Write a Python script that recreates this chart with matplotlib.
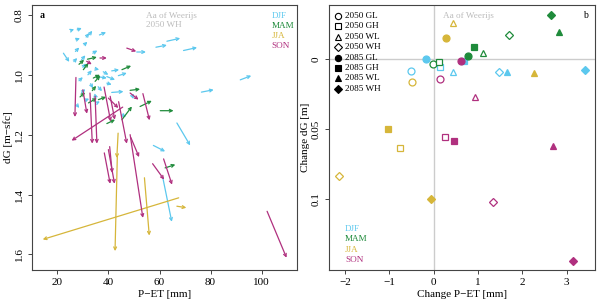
import matplotlib
matplotlib.use('Agg')  # no display

import matplotlib.pyplot as plt

plt.rcParams['font.family'] = ['Liberation Serif', 'DejaVu Serif']
plt.rcParams['axes.unicode_minus'] = True

seasons = ['DJF', 'MAM', 'JJA', 'SON']
season_colors = ['#5cc8ee', '#1f8b3b', '#d6b63a', '#b0307f']

# panel a: arrows per season, rows are [P-ET start, dG start, P-ET end, dG end]
djf_arrows = [
    [25.3, 0.852, 26.6, 0.848], [27.8, 0.850, 29.6, 0.844], [32.5, 0.866, 33.7, 0.853],
    [36.5, 0.867, 39.1, 0.858], [27.3, 0.883, 28.9, 0.878], [31.3, 0.874, 32.5, 0.861],
    [30.5, 0.900, 31.8, 0.890], [22.4, 0.928, 24.7, 0.957], [27.1, 0.922, 28.6, 0.909],
    [33.9, 0.928, 35.7, 0.919], [26.5, 0.956, 27.8, 0.944], [29.5, 0.950, 31.0, 0.935],
    [51.1, 0.924, 54.7, 0.924], [58.6, 0.908, 62.9, 0.901], [62.9, 0.888, 68.1, 0.878],
    [69.4, 0.919, 74.7, 0.909], [91.6, 1.017, 95.9, 1.003], [76.4, 1.058, 81.2, 1.050],
    [41.3, 0.987, 44.2, 0.983], [43.9, 1.003, 47.2, 0.994], [34.8, 0.980, 36.4, 0.983],
    [39.4, 1.006, 42.6, 1.017], [41.3, 1.059, 45.9, 1.056], [66.8, 1.161, 72.0, 1.236],
    [57.6, 1.236, 62.2, 1.256], [61.3, 1.344, 64.8, 1.491], [35.5, 1.006, 39.4, 1.011],
    [39.4, 1.028, 41.3, 1.033], [27.6, 1.100, 28.6, 1.111], [35.5, 1.094, 36.7, 1.089],
    [45.3, 1.133, 46.9, 1.141], [49.2, 1.067, 49.8, 1.081], [30.0, 0.975, 31.2, 0.962],
    [32.0, 1.000, 33.5, 0.985], [28.5, 1.020, 30.0, 1.008], [33.0, 1.030, 34.0, 1.045],
    [36.0, 1.040, 37.5, 1.055], [29.5, 1.060, 31.0, 1.048], [34.5, 1.070, 36.0, 1.075],
    [31.0, 1.085, 32.5, 1.080], [38.0, 0.990, 40.0, 1.000],
]
mam_arrows = [
    [31.8, 0.948, 35.5, 0.941], [28.5, 0.965, 30.5, 0.950], [30.2, 0.983, 32.2, 0.961],
    [45.3, 0.983, 48.9, 0.970], [48.5, 1.052, 52.4, 1.048], [52.4, 1.106, 57.0, 1.087],
    [60.3, 1.120, 65.5, 1.120], [45.3, 1.150, 49.2, 1.106], [39.4, 1.163, 42.6, 1.150],
    [62.2, 1.311, 66.2, 1.300], [34.8, 1.022, 36.8, 1.003], [28.9, 1.074, 30.9, 1.059],
    [32.2, 1.094, 35.5, 1.078], [36.1, 1.083, 39.1, 1.074], [33.7, 1.053, 35.2, 1.037],
    [34.1, 1.011, 36.7, 1.000],
]
jja_arrows = [
    [67.5, 1.411, 14.3, 1.550], [43.8, 1.195, 43.3, 1.278], [43.5, 1.270, 42.6, 1.589],
    [54.1, 1.344, 56.0, 1.537], [66.8, 1.439, 70.5, 1.444],
]
son_arrows = [
    [47.2, 0.911, 50.9, 0.922], [36.7, 0.944, 39.4, 0.944], [31.5, 0.955, 33.5, 0.965],
    [27.3, 1.009, 26.9, 1.141], [30.0, 1.050, 31.6, 1.130], [32.8, 1.061, 33.7, 1.230],
    [34.8, 1.072, 35.5, 1.230], [38.3, 1.041, 40.9, 1.156], [40.7, 1.072, 42.5, 1.150],
    [44.0, 1.090, 47.2, 1.230], [48.5, 1.061, 51.8, 1.083], [53.5, 1.063, 56.1, 1.152],
    [45.6, 1.108, 25.6, 1.220], [48.8, 1.210, 52.0, 1.275], [48.5, 1.200, 53.5, 1.478],
    [38.4, 1.261, 40.7, 1.364], [40.0, 1.250, 42.4, 1.364], [40.5, 1.240, 41.5, 1.328],
    [57.3, 1.297, 61.8, 1.350], [61.6, 1.281, 64.9, 1.367], [102.1, 1.456, 109.7, 1.611],
    [40.0, 1.078, 43.9, 1.111],
]
arrows_by_season = [djf_arrows, mam_arrows, jja_arrows, son_arrows]

# panel b: change per scenario
scenarios = ['2050 GL', '2050 GH', '2050 WL', '2050 WH',
             '2085 GL', '2085 GH', '2085 WL', '2085 WH']
djf_dpet = [-0.51, 0.14, 0.44, 1.47, -0.18, 0.69, 1.65, 3.42]
djf_ddg = [0.0081, 0.0057, 0.0093, 0.0093, 0.0, 0.0012, 0.0093, 0.0076]
mam_dpet = [-0.02, 0.13, 1.11, 1.71, 0.77, 0.92, 2.83, 2.64]
mam_ddg = [0.0036, 0.0021, -0.0043, -0.0176, -0.0024, -0.0088, -0.0197, -0.0316]
jja_dpet = [-0.48, -0.75, 0.44, -2.13, 0.29, -1.02, 2.26, -0.07]
jja_ddg = [0.016, 0.0631, -0.0261, 0.0834, -0.015, 0.05, 0.01, 0.0998]
son_dpet = [0.14, 0.26, 0.93, 1.35, 0.61, 0.47, 2.69, 3.15]
son_ddg = [0.0143, 0.0553, 0.0271, 0.1017, 0.0012, 0.0584, 0.0619, 0.1439]
dpet_by_season = [djf_dpet, mam_dpet, jja_dpet, son_dpet]
ddg_by_season = [djf_ddg, mam_ddg, jja_ddg, son_ddg]

markers = ['o', 's', '^', 'D', 'o', 's', '^', 'D']
marker_sizes = [5.0, 4.2, 5.0, 4.2, 5.0, 4.2, 5.0, 4.2]
filled = [False, False, False, False, True, True, True, True]

fs = 8          # ticks and axis labels
fs_in = 6.6     # texts inside the panels
axcol = '#444444'
gray_txt = '#bbbbbb'

fig = plt.figure(figsize=(6.0, 3.05), dpi=100)
ax1 = fig.add_axes([0.0533, 0.1148, 0.4417, 0.8688])
ax2 = fig.add_axes([0.5483, 0.1148, 0.4434, 0.8688])


def style_axes(ax):
    for sp in ax.spines.values():
        sp.set_color(axcol)
        sp.set_linewidth(0.8)
    ax.tick_params(colors=axcol, labelcolor='black', labelsize=fs, length=3, width=0.7, pad=3)
    ax.tick_params(axis='y', labelrotation=90)
    for lab in ax.get_yticklabels():
        lab.set_va('center')


# ---- panel a
for arr, col in zip(arrows_by_season, season_colors):
    for x0, y0, x1, y1 in arr:
        ax1.annotate('', xy=(x1, y1), xytext=(x0, y0),
                     arrowprops=dict(arrowstyle='->,head_length=0.2,head_width=0.1',
                                     color=col, lw=0.9, shrinkA=0, shrinkB=0))
ax1.set_xlim(10.1, 113.8)
ax1.set_ylim(1.652, 0.767)
ax1.set_xticks([20, 40, 60, 80, 100])
ax1.set_yticks([0.8, 1.0, 1.2, 1.4, 1.6])
ax1.set_yticklabels(['0.8', '1.0', '1.2', '1.4', '1.6'])
ax1.set_xlabel('P\u2212ET [mm]', fontsize=fs, labelpad=2)
ax1.set_ylabel('dG [m\u2212sfc]', fontsize=fs, labelpad=1)
style_axes(ax1)
ax1.text(0.03, 0.96, 'a', transform=ax1.transAxes, fontsize=fs_in + 0.5,
         fontweight='bold', va='center')
ax1.text(0.429, 0.96, 'Aa of Weerijs', transform=ax1.transAxes, fontsize=fs_in,
         color=gray_txt, va='center')
ax1.text(0.429, 0.923, '2050 WH', transform=ax1.transAxes, fontsize=fs_in,
         color=gray_txt, va='center')
for i, (s, col) in enumerate(zip(seasons, season_colors)):
    ax1.text(0.905, 0.96 - i * 0.038, s, transform=ax1.transAxes, fontsize=fs_in,
             color=col, va='center')

# ---- panel b
ax2.axhline(0, color='#cccccc', lw=1, zorder=0)
ax2.axvline(0, color='#cccccc', lw=1, zorder=0)
for dpet, ddg, col in zip(dpet_by_season, ddg_by_season, season_colors):
    for x, y, m, ms, f in zip(dpet, ddg, markers, marker_sizes, filled):
        ax2.plot(x, y, marker=m, ms=ms, color=col, mfc=col if f else 'white',
                 mew=0.9, linestyle='none')
ax2.set_xlim(-2.36, 3.64)
ax2.set_ylim(0.1505, -0.0388)
ax2.set_xticks([-2, -1, 0, 1, 2, 3])
ax2.set_yticks([0, 0.05, 0.1])
ax2.set_yticklabels(['0', '0.05', '0.1'])
ax2.set_xlabel('Change P\u2212ET [mm]', fontsize=fs, labelpad=2)
ax2.set_ylabel('Change dG [m]', fontsize=fs, labelpad=1)
style_axes(ax2)
ax2.text(0.429, 0.96, 'Aa of Weerijs', transform=ax2.transAxes, fontsize=fs_in,
         color=gray_txt, va='center')
ax2.text(0.955, 0.96, 'b', transform=ax2.transAxes, fontsize=fs_in + 0.5, va='center')
for i, (sc, m, ms, f) in enumerate(zip(scenarios, markers, marker_sizes, filled)):
    yy = 0.959 - i * 0.0393
    ax2.plot(0.034, yy, marker=m, ms=ms * 0.9, color='black', mfc='black' if f else 'white',
             mew=0.8, transform=ax2.transAxes, clip_on=False)
    ax2.text(0.06, yy, sc, transform=ax2.transAxes, fontsize=fs_in, va='center')
for i, (s, col) in enumerate(zip(seasons, season_colors)):
    ax2.text(0.06, 0.155 - i * 0.039, s, transform=ax2.transAxes, fontsize=fs_in,
             color=col, va='center')

fig.savefig('out.png', dpi=100)
plt.close(fig)
